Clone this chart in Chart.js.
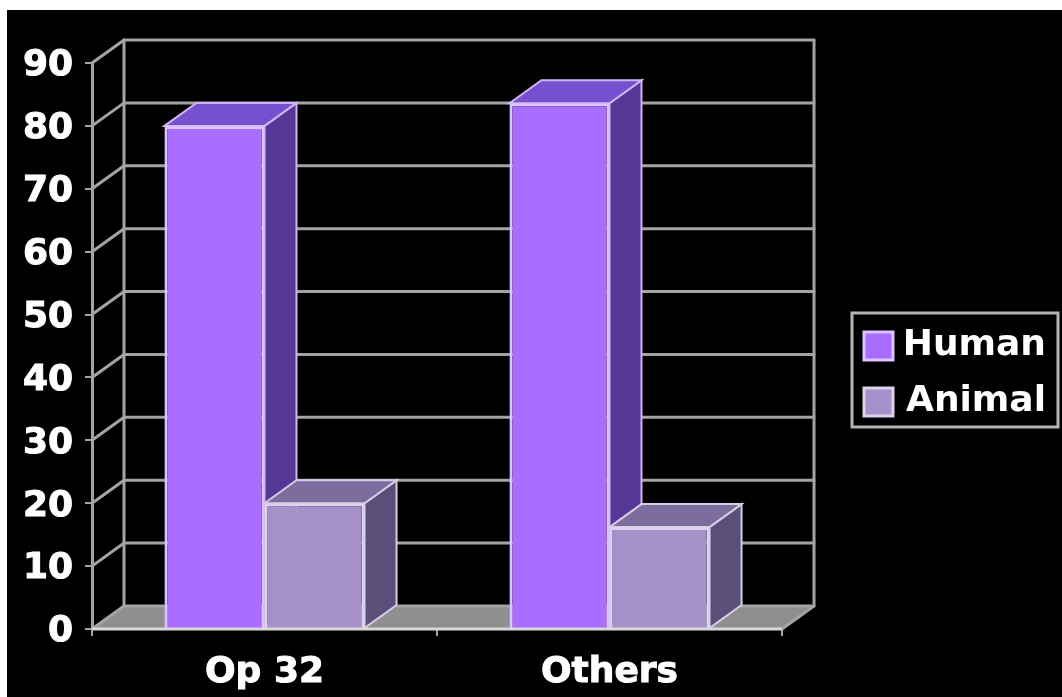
<!DOCTYPE html>
<html>
<head>
<meta charset="utf-8">
<style>
html,body{margin:0;padding:0;background:#fff;overflow:hidden}
#c{position:absolute;left:7px;top:10px;background:#000}
</style>
<script src="https://cdn.jsdelivr.net/npm/chart.js@4"></script>
</head>
<body>
<canvas id="c" width="1055" height="687"></canvas>
<script>
const categories = ["Op 32", "Others"];
const humanValues = [80, 83.6];
const animalValues = [20, 16.2];
const seriesNames = ["Human", "Animal"];

const FONT = {family: "'DejaVu Sans'", size: 36, weight: "bold"};
const DX = 32, DY = -23;
const GRID = "#a4a4a4";
const faces = [
  {side: "#553896", top: "#7650cf", edge: "#cdb4f2"},
  {side: "#5a4f78", top: "#7d6d9e", edge: "#d6cce6"}
];

function poly(ctx, pts, fill, stroke, w) {
  ctx.beginPath();
  pts.forEach((p, i) => i ? ctx.lineTo(p[0], p[1]) : ctx.moveTo(p[0], p[1]));
  ctx.closePath();
  if (fill) { ctx.fillStyle = fill; ctx.fill(); }
  if (stroke) { ctx.strokeStyle = stroke; ctx.lineWidth = w; ctx.stroke(); }
}

const depth3d = {
  id: "depth3d",
  beforeLayout(chart) {
    const lg = chart.legend;
    if (!lg._wrapped) {
      const fit = lg.fit;
      lg.fit = function () { fit.call(this); this.width = 280; };
      lg._wrapped = true;
    }
  },
  afterLayout(chart) {
    const lg = chart.legend;
    lg.left = 837; lg.right = 1039; lg.width = 202;
    lg.top = 298; lg.bottom = 620; lg.height = 322;
  },
  beforeDatasetsDraw(chart) {
    const {ctx, chartArea: a, scales: {y}} = chart;
    ctx.save();
    ctx.lineCap = "round";
    // floor
    poly(ctx, [[a.left, a.bottom], [a.left + DX, a.bottom + DY], [a.right + DX, a.bottom + DY], [a.right, a.bottom]], "#8f8f8f");
    // walls
    ctx.strokeStyle = GRID;
    ctx.lineWidth = 3;
    y.ticks.forEach(t => {
      const py = y.getPixelForValue(t.value);
      ctx.beginPath();
      ctx.moveTo(a.left, py);
      ctx.lineTo(a.left + DX, py + DY);
      ctx.lineTo(a.right + DX, py + DY);
      ctx.stroke();
    });
    ctx.beginPath();
    ctx.moveTo(a.left + DX, a.top + DY);
    ctx.lineTo(a.left + DX, a.bottom + DY);
    ctx.moveTo(a.right + DX, a.top + DY);
    ctx.lineTo(a.right + DX, a.bottom + DY);
    ctx.lineTo(a.right, a.bottom);
    ctx.stroke();
    // bar depth faces
    chart.data.datasets.forEach((ds, i) => {
      const f = faces[i];
      chart.getDatasetMeta(i).data.forEach(b => {
        const l = b.x - b.width / 2, r = b.x + b.width / 2, t = b.y, bt = b.base;
        poly(ctx, [[r, t], [r + DX, t + DY], [r + DX, bt + DY], [r, bt]], f.side, f.edge, 2);
        poly(ctx, [[l, t], [l + DX, t + DY], [r + DX, t + DY], [r, t]], f.top, f.edge, 2);
      });
    });
    ctx.restore();
  },
  afterDraw(chart) {
    const {ctx, chartArea: a} = chart;
    ctx.save();
    // front baseline
    ctx.strokeStyle = "#d8d8d8";
    ctx.lineWidth = 3;
    ctx.beginPath();
    ctx.moveTo(a.left, a.bottom);
    ctx.lineTo(a.right, a.bottom);
    ctx.stroke();
    // legend frame
    ctx.strokeStyle = "#b4b4b4";
    ctx.lineWidth = 3;
    ctx.strokeRect(845, 303, 206, 114);
    ctx.restore();
  }
};

new Chart(document.getElementById("c"), {
  type: "bar",
  data: {
    labels: categories,
    datasets: [
      {label: seriesNames[0], data: humanValues, backgroundColor: "#a96dff", borderColor: "#dcc4ff", borderWidth: 3},
      {label: seriesNames[1], data: animalValues, backgroundColor: "#a590c8", borderColor: "#dcd2ec", borderWidth: 3}
    ]
  },
  plugins: [depth3d],
  options: {
    responsive: false,
    animation: false,
    layout: {padding: {top: 53, left: 0, right: 0, bottom: 0}},
    datasets: {bar: {categoryPercentage: 0.58, barPercentage: 1}},
    plugins: {
      tooltip: {enabled: false},
      legend: {
        position: "right",
        align: "start",
        labels: {
          color: "#ffffff",
          font: FONT,
          boxWidth: 29,
          boxHeight: 28,
          padding: 20,
          textAlign: "right"
        }
      }
    },
    scales: {
      x: {
        afterFit(s) { s.height = 68; },
        grid: {display: true, drawOnChartArea: false, drawTicks: true, tickLength: 7, color: GRID, lineWidth: 2},
        border: {display: false},
        ticks: {color: "#ffffff", font: FONT, padding: 15, maxRotation: 0, textStrokeColor: "#ffffff", textStrokeWidth: 1}
      },
      y: {
        min: 0,
        max: 90,
        afterFit(s) {
          s.width = 85;
          if (!s._nudged) {
            const orig = s._computeLabelItems;
            s._computeLabelItems = function (area) {
              const items = orig.call(this, area);
              items.forEach(it => { it.textOffset += 3; });
              return items;
            };
            s._nudged = true;
          }
        },
        grid: {display: true, drawOnChartArea: false, drawTicks: true, tickLength: 7, color: GRID, lineWidth: 2},
        border: {display: true, color: GRID, width: 3},
        ticks: {color: "#ffffff", font: FONT, stepSize: 10, padding: 12, textStrokeColor: "#ffffff", textStrokeWidth: 1}
      }
    }
  }
});
</script>
</body>
</html>
